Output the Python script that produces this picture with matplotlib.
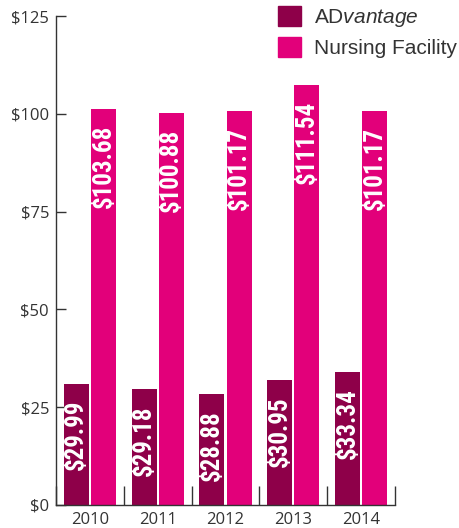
import matplotlib.pyplot as plt
from matplotlib import font_manager
from matplotlib.patches import Patch
import numpy as np

years = ['2010', '2011', '2012', '2013', '2014']
# bar heights as drawn in the picture
advantage = [30.9, 29.6, 28.3, 31.9, 33.9]
nursing = [101.3, 100.3, 100.8, 107.4, 100.8]
# printed labels
advantage_labels = ['$29.99', '$29.18', '$28.88', '$30.95', '$33.34']
nursing_labels = ['$103.68', '$100.88', '$101.17', '$111.54', '$101.17']
yticks = [0, 25, 50, 75, 100, 125]

DARK = '#8E0049'
BRIGHT = '#E2007A'
TEXT = '#333333'

plt.rcParams['mathtext.fontset'] = 'custom'
plt.rcParams['mathtext.rm'] = 'Liberation Sans'
plt.rcParams['mathtext.it'] = 'Liberation Sans:italic'

# pick a narrow bold face for the value labels if one is around
installed = {f.name for f in font_manager.fontManager.ttflist}
narrow = None
for name in ['Roboto Condensed', 'Liberation Sans Narrow', 'DejaVu Sans Condensed']:
    if name in installed:
        narrow = name
        break
stretch = 'normal'
if narrow is None:
    narrow = 'DejaVu Sans'
    stretch = 'condensed'

fig = plt.figure(figsize=(4.6, 5.28), dpi=100)
ax = fig.add_axes([56 / 460, 23 / 528, 339 / 460, 489 / 528])

x = np.arange(len(years))
w = 0.369
gap = 0.03
b1 = ax.bar(x - (w + gap) / 2, advantage, w, color=DARK)
b2 = ax.bar(x + (w + gap) / 2, nursing, w, color=BRIGHT)

for bars, labels in [(b1, advantage_labels), (b2, nursing_labels)]:
    for rect, lab in zip(bars, labels):
        ax.annotate(lab, (rect.get_x() + rect.get_width() / 2, rect.get_height()),
                    xytext=(0, -11.5), textcoords='offset points',
                    rotation=90, ha='center', va='top', color='white',
                    fontsize=18, fontweight='bold', family=[narrow, 'DejaVu Sans'],
                    fontstretch=stretch)

ax.set_xlim(-0.5, 4.5)
ax.set_ylim(0, 125)

ax.set_yticks(yticks)
ax.set_yticklabels(['$' + str(v) for v in yticks], family='Open Sans',
                   fontsize=12, color=TEXT)
ax.tick_params(axis='y', direction='in', length=7, width=1, color=TEXT, pad=5)

ax.set_xticks(x)
ax.set_xticklabels(years, family='Open Sans', fontsize=12, color=TEXT)
ax.set_xticks(np.arange(-0.5, 5, 1), minor=True)
ax.tick_params(axis='x', which='major', length=0, pad=5)
ax.tick_params(axis='x', which='minor', direction='in', length=14, width=1, color=TEXT)

for side in ['top', 'right']:
    ax.spines[side].set_visible(False)
for side in ['left', 'bottom']:
    ax.spines[side].set_color(TEXT)
    ax.spines[side].set_linewidth(1)

handles = [Patch(color=DARK), Patch(color=BRIGHT)]
leg = ax.legend(handles, [r'AD$\mathit{vantage}$', 'Nursing Facility'],
                loc='upper left', bbox_to_anchor=(278 / 460, 1 - 6 / 528),
                bbox_transform=fig.transFigure, frameon=False,
                borderpad=0, borderaxespad=0, handlelength=1.1, handleheight=1.1,
                handletextpad=0.65, labelspacing=0.4,
                prop={'family': 'Liberation Sans', 'size': 15})
for t in leg.get_texts():
    t.set_color(TEXT)

fig.savefig('out.png', dpi=100)
